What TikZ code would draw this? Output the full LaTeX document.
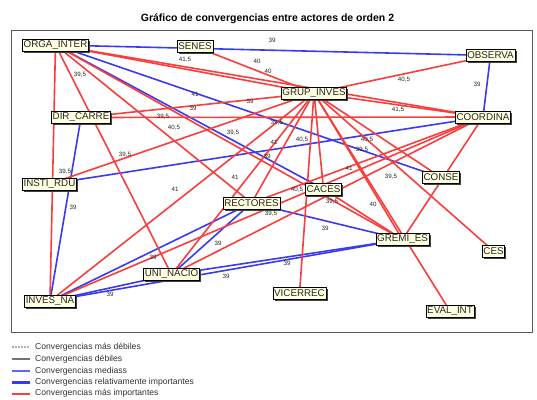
\documentclass[tikz,border=0pt]{standalone}
\usepackage{fontspec}
\setmainfont{Liberation Sans}
\usetikzlibrary{shadows}
\pgfdeclarelayer{background}
\pgfsetlayers{background,main}
\definecolor{convred}{RGB}{250,62,62}
\definecolor{convblue}{RGB}{58,58,240}
\definecolor{lightblue}{RGB}{100,100,250}
\definecolor{nodefill}{RGB}{255,255,226}
\definecolor{framegray}{RGB}{90,90,90}
\tikzset{
  actor/.style={draw=black, line width=0.6pt, fill=nodefill,
    font=\fontsize{9.8}{10}\selectfont, text=black!85,
    inner xsep=1.2pt, inner ysep=0pt, minimum height=12pt,
    drop shadow={shadow xshift=1.6pt, shadow yshift=-1.6pt, fill=black!75, opacity=1}},
  strong/.style={draw=convred, line width=1.6pt},
  mid/.style={draw=convblue, line width=1.6pt},
  val/.style={font=\fontsize{6.2}{6.2}\selectfont, inner sep=0pt, text=black!85},
  legtext/.style={anchor=west, font=\fontsize{8.6}{9}\selectfont, text=black!80, inner sep=0pt},
  legline/.style={line cap=butt},
}
\begin{document}
\begin{tikzpicture}[x=1pt, y=-1pt]
\useasboundingbox (0,0) rectangle (537,399);

% title
\node[font=\bfseries\fontsize{10.5}{12}\selectfont] (title) at (267.5,18.5) {Gráfico de convergencias entre actores de orden 2};

% actors
\node[actor] (OI) at (55.5,45)   {ORGA\_INTER};
\node[actor] (SE) at (195,46.5)  {SENES};
\node[actor] (OB) at (490.5,55.5) {OBSERVA};
\node[actor] (GI) at (314,93)    {GRUP\_INVES};
\node[actor] (DC) at (81,117.5)  {DIR\_CARRE};
\node[actor] (CO) at (483,117)   {COORDINA};
\node[actor] (IR) at (49.5,184)  {INSTI\_RDU};
\node[actor] (CA) at (323.5,189) {CACES};
\node[actor] (CN) at (441,177.5) {CONSE};
\node[actor] (RE) at (251.5,203) {RECTORES};
\node[actor] (GE) at (402.5,239.5) {GREMI\_ES};
\node[actor] (CS) at (493.5,251) {CES};
\node[actor] (UN) at (171.5,274.5) {UNI\_NACIO};
\node[actor] (VI) at (299.5,293.5) {VICERREC};
\node[actor] (IN) at (50,301)    {INVES\_NA};
\node[actor] (EV) at (450,311)   {EVAL\_INT};

\begin{pgfonlayer}{background}
  \fill[white] (0,0) rectangle (537,399);
  \draw[framegray, line width=0.9pt] (11,30) rectangle (532,332);

  % relatively important convergences
  \foreach \a/\b in {OI/OB, OI/CN, OI/CA, OB/CO, DC/IN, IR/CO, RE/GE,
                     IN/RE, UN/RE, IN/UN, IN/GE, UN/GE}
    \draw[mid] (\a.center) -- (\b.center);

  % most important convergences
  \foreach \a/\b in {OI/GI, OI/CO, OI/IN, OI/UN, OI/RE, OI/GE, SE/GI,
                     GI/OB, GI/CO, DC/GI, DC/CO, IR/GI, GI/IN, GI/UN,
                     GI/RE, GI/VI, GI/CA, GI/GE, GI/EV, GI/CS, GI/CN,
                     CO/GE, CO/RE, CO/IN, CO/UN, CA/GE}
    \draw[strong] (\a.center) -- (\b.center);

  % intensity values
  \foreach \n/\x/\y/\t in {
      v1/272/40/39, v2/185/60/{41,5}, v3/257/61/40, v4/268/71/40,
      v5/404/80/{40,5}, v6/477/84/39, v7/80/75/{39,5}, v8/195/94/41,
      v9/250/101/39, v10/193/108/39, v11/163/117/{39,5}, v12/398/110/{41,5},
      v13/174/128/{40,5}, v14/233/133/{39,5}, v15/277/123/{39,5}, v16/274/142/41,
      v17/302/140/{40,5}, v18/367/140/{40,5}, v19/362/150/{39,5}, v20/125/155/{39,5},
      v21/65/172/{39,5}, v22/267/156/39, v23/235/177/41, v24/175/189/41,
      v25/349/168/41, v26/391/177/{39,5}, v27/297/190/{40,5}, v28/332/202/{39,5},
      v29/373/204/40, v30/271/214/{39,5}, v31/325/228/39, v32/73/207/39,
      v33/153/257/39, v34/218/243/39, v35/226/276/39, v36/287/263/39,
      v37/110/294/39}
    \node[val] (\n) at (\x,\y) {\t};
\end{pgfonlayer}

% legend
\draw[legline, draw=black!30, line width=1.2pt, dash pattern=on 1.5pt off 1.5pt] (12,347) -- (30,347);
\node[legtext] (k1) at (35,347) {Convergencias más débiles};
\draw[legline, draw=black!55, line width=1.2pt] (12,359) -- (30,359);
\node[legtext] (k2) at (35,359) {Convergencias débiles};
\draw[legline, draw=lightblue, line width=1.3pt] (12,371) -- (30,371);
\node[legtext] (k3) at (35,371) {Convergencias mediass};
\draw[legline, draw=convblue, line width=2.2pt] (12,382.5) -- (30,382.5);
\node[legtext] (k4) at (35,382.5) {Convergencias relativamente importantes};
\draw[legline, draw=convred, line width=2pt] (12,393.5) -- (30,393.5);
\node[legtext] (k5) at (35,393.5) {Convergencias más importantes};
\end{tikzpicture}
\end{document}
